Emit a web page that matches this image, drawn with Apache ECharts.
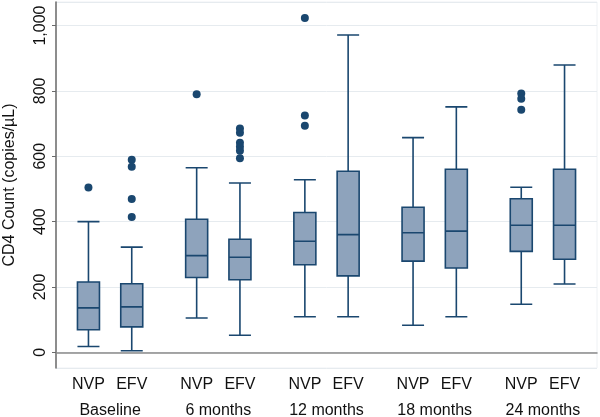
<!DOCTYPE html>
<html>
<head>
<meta charset="utf-8">
<script src="https://cdn.jsdelivr.net/npm/echarts@6/dist/echarts.min.js"></script>
<style>
html,body{margin:0;padding:0;background:#fff;}
#chart{width:600px;height:417px;}
</style>
</head>
<body>
<div id="chart"></div>
<script>
const groups = ['Baseline', '6 months', '12 months', '18 months', '24 months'];
const drugs = ['NVP', 'EFV'];
// [min, Q1, median, Q3, max] per box, order: group by group, NVP then EFV
const boxStats = [
  [18, 69, 136, 215, 400],
  [5, 78, 139, 210, 322],
  [105, 229, 296, 407, 565],
  [52, 222, 291, 346, 518],
  [109, 268, 340, 428, 528],
  [109, 234, 360, 554, 971],
  [83, 279, 366, 444, 657],
  [109, 258, 371, 560, 751],
  [147, 309, 389, 470, 505],
  [209, 285, 389, 560, 879]
];
const outliers = [
  [504],
  [589, 568, 469, 414],
  [790],
  [685, 672, 641, 629, 617, 594],
  [1023, 725, 693],
  [],
  [],
  [],
  [792, 776, 742],
  []
];
const yTicks = [0, 200, 400, 600, 800, 1000];

// category slots: 25 slots; NVP at 1+5g, EFV at 3+5g, group label at 2+5g
const nSlots = 25;
const drugCats = new Array(nSlots).fill('');
const groupCats = new Array(nSlots).fill('');
const boxData = [];
const outData = [];
groups.forEach((g, gi) => {
  groupCats[2 + gi * 5] = g;
  drugs.forEach((d, di) => {
    const pos = 1 + gi * 5 + di * 2;
    drugCats[pos] = d;
    const k = gi * 2 + di;
    boxData.push([pos].concat(boxStats[k]));
    outliers[k].forEach(v => outData.push([pos, v]));
  });
});

const navy = '#1a476f';
const font = 'Liberation Sans, Arial, sans-serif';
const chart = echarts.init(document.getElementById('chart'));
chart.setOption({
  animation: false,
  grid: {left: 56, right: 3, top: 2, bottom: 49, outerBoundsMode: 'none', containLabel: false,
         show: true, borderColor: '#eef1f4', borderWidth: 1},
  xAxis: [{
    type: 'category',
    data: drugCats,
    boundaryGap: true,
    axisLine: {lineStyle: {color: '#8a8a8a', width: 1.5}},
    axisTick: {show: false},
    axisLabel: {interval: 0, color: '#111', fontSize: 16, fontFamily: font, margin: 9},
    splitLine: {show: false}
  }, {
    type: 'category',
    data: groupCats,
    boundaryGap: true,
    position: 'bottom',
    offset: 26,
    axisLine: {show: false},
    axisTick: {show: false},
    axisLabel: {interval: 0, color: '#111', fontSize: 16, fontFamily: font, margin: 9},
    splitLine: {show: false}
  }],
  yAxis: {
    type: 'value',
    min: -48,
    max: 1072,
    splitNumber: 5,
    name: 'CD4 Count (copies/\u00b5L)',
    nameLocation: 'middle',
    nameGap: 38,
    nameRotate: 90,
    nameTextStyle: {color: '#111', fontSize: 16, fontFamily: font},
    axisLine: {show: true, lineStyle: {color: '#6a6a6a', width: 1.5}},
    axisTick: {show: true, length: 4, lineStyle: {color: '#6a6a6a'}},
    axisLabel: {
      rotate: 90, color: '#111', fontSize: 16, fontFamily: font, margin: 7,
      showMinLabel: false, showMaxLabel: false,
      formatter: v => yTicks.indexOf(v) >= 0 ? String(v).replace(/\B(?=(\d{3})+(?!\d))/g, ',') : ''
    },
    splitLine: {show: true, lineStyle: {color: '#e6ebef', width: 1}}
  },
  series: [{
    type: 'boxplot',
    xAxisIndex: 0,
    data: boxData,
    encode: {x: 0, y: [1, 2, 3, 4, 5]},
    boxWidth: [22, 22],
    itemStyle: {color: '#8ea3bc', borderColor: navy, borderWidth: 1.6}
  }, {
    type: 'scatter',
    xAxisIndex: 0,
    data: outData,
    symbol: 'circle',
    symbolSize: 8,
    itemStyle: {color: navy, opacity: 1}
  }]
});
</script>
</body>
</html>
